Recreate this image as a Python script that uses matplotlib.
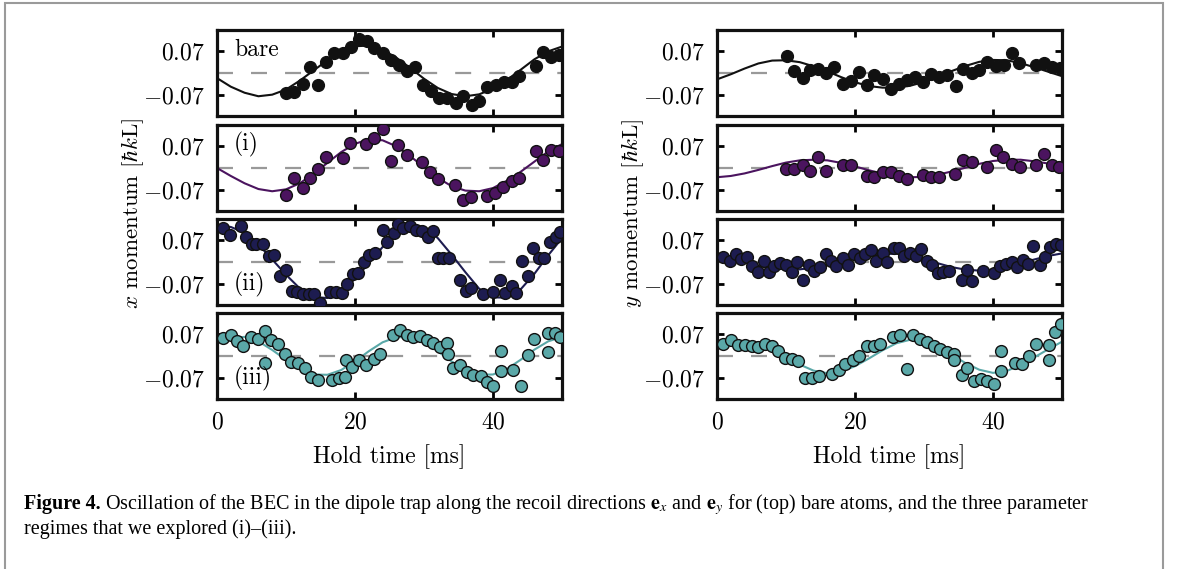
import matplotlib
matplotlib.use("Agg")
import matplotlib.pyplot as plt
from matplotlib.patches import Rectangle

# fit curves are sampled every 2 ms
fit_t = [0, 2, 4, 6, 8, 10, 12, 14, 16, 18, 20, 22, 24, 26, 28, 30, 32, 34,
         36, 38, 40, 42, 44, 46, 48, 50]

# ---- x direction ----
bare_x_t = [10.0, 11.2, 12.4, 13.5, 14.6, 15.8, 17.0, 18.2, 19.4, 20.6, 21.7,
            22.8, 24.0, 25.2, 26.4, 27.5, 28.7, 29.8, 31.0, 32.2, 33.4, 34.6,
            35.7, 36.9, 38.0, 39.2, 40.4, 41.6, 42.7, 43.8, 46.2, 47.3, 48.4,
            49.6]
bare_x_v = [-0.062, -0.059, -0.036, 0.019, -0.039, 0.034, 0.062, 0.062, 0.083,
            0.107, 0.099, 0.078, 0.062, 0.041, 0.026, 0.005, 0.018, -0.039,
            -0.057, -0.078, -0.080, -0.095, -0.071, -0.099, -0.088, -0.045,
            -0.038, -0.028, -0.028, -0.010, 0.023, 0.067, 0.050, 0.057]
bare_x_fit = [-0.016, -0.043, -0.062, -0.073, -0.068, -0.052, -0.024, 0.008,
              0.040, 0.067, 0.084, 0.086, 0.073, 0.048, 0.016, -0.018, -0.047,
              -0.066, -0.073, -0.067, -0.049, -0.022, 0.010, 0.043, 0.068,
              0.083]

i_x_t = [10.0, 11.2, 12.4, 13.5, 14.6, 15.8, 18.2, 19.3, 21.6, 22.8, 24.0,
         25.2, 26.3, 27.5, 29.7, 30.9, 32.1, 34.5, 35.7, 36.8, 39.1, 40.3,
         41.5, 42.7, 43.8, 46.2, 47.3, 48.4, 49.6]
i_x_v = [-0.086, -0.031, -0.062, -0.031, -0.002, 0.035, 0.031, 0.080, 0.075,
         0.093, 0.121, 0.023, 0.071, 0.041, 0.018, -0.013, -0.036, -0.052,
         -0.102, -0.090, -0.088, -0.078, -0.060, -0.041, -0.031, 0.054, 0.026,
         0.055, 0.052]
i_x_fit = [0.000, -0.025, -0.048, -0.066, -0.073, -0.067, -0.048, -0.018,
           0.016, 0.050, 0.076, 0.090, 0.087, 0.068, 0.037, 0.003, -0.031,
           -0.057, -0.071, -0.073, -0.063, -0.040, -0.012, 0.020, 0.052, 0.075]

ii_x_t = [0.8, 1.9, 3.5, 4.2, 5.0, 5.7, 6.6, 7.6, 8.3, 9.1, 10.0, 10.8, 11.6,
          12.5, 13.4, 14.1, 14.9, 16.4, 17.2, 18.1, 18.8, 19.7, 20.5, 21.3,
          22.1, 22.9, 24.0, 24.7, 25.6, 26.3, 27.0, 28.0, 28.8, 29.7, 30.6,
          31.3, 32.0, 32.8, 33.6, 35.2, 36.1, 36.8, 38.5, 40.0, 41.0, 41.7,
          42.7, 43.4, 44.2, 45.1, 45.8, 46.7, 47.4, 48.3, 49.1, 49.7]
ii_x_v = [0.108, 0.085, 0.114, 0.080, 0.056, 0.056, 0.057, 0.018, 0.021,
          -0.045, -0.024, -0.091, -0.094, -0.099, -0.102, -0.102, -0.128,
          -0.094, -0.094, -0.096, -0.068, -0.039, -0.034, 0.000, 0.023, 0.028,
          0.101, 0.064, 0.090, 0.118, 0.106, 0.114, 0.101, 0.097, 0.080, 0.097,
          0.012, 0.012, 0.012, -0.055, -0.091, -0.081, -0.100, -0.093, -0.055,
          -0.096, -0.076, -0.096, 0.002, -0.043, 0.044, 0.012, 0.012, 0.062,
          0.080, 0.095]
ii_x_fit = [0.113, 0.110, 0.092, 0.055, 0.008, -0.040, -0.083, -0.110, -0.113,
            -0.093, -0.053, -0.004, 0.047, 0.092, 0.115, 0.110, 0.075, 0.023,
            -0.032, -0.084, -0.111, -0.112, -0.086, -0.037, 0.021, 0.075]

iii_x_t = [0.8, 2.0, 2.9, 3.8, 4.9, 6.0, 7.0, 7.0, 7.8, 8.9, 9.9, 10.7, 11.8,
           12.8, 13.6, 14.7, 16.6, 17.7, 18.5, 18.7, 19.6, 20.6, 21.6, 22.7,
           23.6, 25.5, 26.5, 27.5, 28.4, 29.4, 30.4, 31.3, 32.3, 33.3, 33.5,
           34.2, 35.2, 36.2, 37.1, 38.2, 39.1, 40.0, 41.2, 41.2, 42.9, 44.1,
           45.1, 45.9, 48.0, 48.0, 49.0, 49.7]
iii_x_v = [0.056, 0.067, 0.046, 0.032, 0.059, 0.054, 0.080, -0.021, 0.050,
           0.037, 0.007, -0.018, -0.021, -0.037, -0.067, -0.075, -0.075,
           -0.070, -0.067, -0.011, -0.034, -0.014, -0.027, -0.009, 0.007,
           0.067, 0.082, 0.067, 0.059, 0.062, 0.050, 0.040, 0.027, 0.040,
           0.005, -0.037, -0.027, -0.051, -0.059, -0.064, -0.082, -0.093,
           0.016, -0.048, -0.044, -0.094, 0.003, 0.054, 0.011, 0.072, 0.072,
           0.059]
iii_x_fit = [0.039, 0.057, 0.060, 0.046, 0.019, -0.012, -0.041, -0.058, -0.059,
             -0.044, -0.017, 0.015, 0.043, 0.059, 0.059, 0.043, 0.015, -0.017,
             -0.044, -0.059, -0.058, -0.041, -0.012, 0.020, 0.046, 0.060]

# ---- y direction ----
bare_y_t = [10.1, 11.2, 12.4, 13.5, 14.6, 15.8, 17.0, 18.2, 19.4, 20.6, 21.7,
            22.8, 24.0, 25.2, 26.4, 27.5, 28.7, 29.9, 31.0, 32.2, 33.4, 34.6,
            35.7, 36.9, 38.0, 39.2, 40.4, 41.6, 42.7, 43.8, 46.2, 47.4, 48.6,
            49.7]
bare_y_v = [0.052, 0.007, -0.016, 0.010, 0.012, 0.000, 0.020, -0.034, -0.026,
            0.003, -0.038, -0.007, -0.018, -0.049, -0.036, -0.023, -0.013,
            -0.029, -0.003, -0.013, -0.007, -0.041, 0.013, 0.000, 0.010, 0.036,
            0.021, 0.026, 0.064, 0.031, 0.026, 0.031, 0.018, 0.016]
bare_y_fit = [-0.020, -0.004, 0.014, 0.030, 0.039, 0.040, 0.034, 0.021, 0.005,
              -0.013, -0.029, -0.041, -0.046, -0.046, -0.040, -0.028, -0.012,
              0.006, 0.022, 0.035, 0.041, 0.040, 0.031, 0.018, 0.004, -0.010]

i_y_t = [10.0, 11.2, 12.4, 13.5, 14.7, 15.8, 18.2, 19.4, 21.7, 22.8, 24.0,
         25.2, 26.4, 27.5, 29.9, 31.0, 32.2, 34.5, 35.7, 36.9, 39.2, 40.4,
         41.5, 42.7, 43.9, 46.2, 47.4, 48.5, 49.6]
i_y_v = [-0.002, -0.002, 0.010, -0.010, 0.033, -0.010, 0.010, 0.010, -0.024,
         -0.029, -0.012, -0.013, -0.026, -0.036, -0.023, -0.029, -0.029,
         -0.018, 0.026, 0.019, 0.003, 0.057, 0.033, 0.013, 0.003, 0.010, 0.044,
         0.008, 0.003]
i_y_fit = [-0.029, -0.025, -0.017, -0.006, 0.006, 0.017, 0.024, 0.026, 0.024,
           0.016, 0.005, -0.007, -0.018, -0.026, -0.029, -0.028, -0.021,
           -0.011, 0.001, 0.013, 0.022, 0.026, 0.026, 0.021, 0.014, 0.009]

ii_y_t = [0.9, 1.9, 2.7, 3.5, 4.3, 5.1, 6.0, 6.8, 7.5, 8.3, 9.1, 10.0, 10.8,
          11.6, 12.5, 13.3, 14.1, 14.9, 15.8, 16.5, 17.3, 18.2, 19.0, 19.9,
          20.7, 21.4, 22.3, 23.0, 24.0, 24.7, 25.6, 26.4, 27.1, 28.0, 28.8,
          29.6, 30.4, 31.2, 32.0, 32.8, 33.6, 35.5, 36.2, 37.0, 38.6, 40.2,
          41.0, 41.9, 42.7, 43.5, 44.3, 45.1, 45.8, 46.8, 47.6, 48.3, 49.1,
          49.8]
ii_y_v = [0.016, 0.002, 0.025, 0.009, 0.016, -0.013, -0.031, 0.002, -0.031,
          -0.013, -0.003, -0.010, -0.032, 0.000, -0.058, -0.008, -0.029,
          -0.017, 0.025, 0.002, -0.013, 0.012, -0.008, 0.025, 0.012, 0.025,
          0.038, 0.002, 0.028, 0.000, 0.044, 0.044, 0.020, 0.028, 0.020, 0.041,
          0.002, -0.010, -0.034, -0.031, -0.027, -0.055, -0.024, -0.060,
          -0.027, -0.034, -0.013, -0.006, 0.000, -0.017, 0.007, -0.006, 0.049,
          -0.008, 0.015, 0.046, 0.056, 0.054]
ii_y_fit = [0.015, 0.008, -0.002, -0.012, -0.019, -0.023, -0.023, -0.018,
            -0.010, 0.000, 0.010, 0.019, 0.025, 0.026, 0.021, 0.010, -0.004,
            -0.016, -0.024, -0.027, -0.024, -0.016, -0.004, 0.008, 0.019, 0.027]

iii_y_t = [0.9, 2.0, 3.0, 4.0, 5.0, 6.0, 7.0, 7.9, 8.9, 9.9, 10.8, 11.8, 12.8,
           13.8, 14.8, 16.7, 17.7, 18.6, 19.7, 20.6, 21.7, 22.7, 23.6, 25.5,
           26.5, 27.5, 28.4, 29.4, 30.5, 31.4, 32.3, 33.4, 34.4, 34.4, 35.5,
           36.3, 37.3, 38.3, 39.2, 40.1, 41.2, 41.2, 43.2, 44.2, 45.2, 46.2,
           48.1, 48.1, 49.0, 49.8]
iii_y_v = [0.037, 0.050, 0.034, 0.034, 0.032, 0.027, 0.037, 0.030, 0.016,
           -0.005, -0.009, -0.016, -0.070, -0.070, -0.064, -0.057, -0.043,
           -0.025, -0.011, 0.000, 0.032, 0.032, 0.037, 0.061, 0.067, -0.040,
           0.067, 0.054, 0.045, 0.032, 0.021, 0.011, 0.005, -0.014, -0.061,
           -0.037, -0.080, -0.072, -0.080, -0.088, 0.016, -0.046, -0.021,
           -0.025, 0.000, 0.037, -0.014, 0.034, 0.075, 0.100]
iii_y_fit = [0.044, 0.048, 0.046, 0.036, 0.018, -0.004, -0.027, -0.046, -0.054,
             -0.049, -0.032, -0.008, 0.018, 0.040, 0.051, 0.046, 0.028, 0.004,
             -0.022, -0.043, -0.053, -0.047, -0.028, -0.004, 0.021, 0.045]

panel_labels = ["bare", "(i)", "(ii)", "(iii)"]
colors = ["#111111", "#4b145f", "#1d1c50", "#5aa8a8"]
x_ticks = [0, 20, 40]
x_ticklabels = ["$0$", "$20$", "$40$"]
y_ticks = [-0.07, 0.07]
y_ticklabels = ["$-0.07$", "$0.07$"]

columns = [
    [(bare_x_t, bare_x_v, bare_x_fit), (i_x_t, i_x_v, i_x_fit),
     (ii_x_t, ii_x_v, ii_x_fit), (iii_x_t, iii_x_v, iii_x_fit)],
    [(bare_y_t, bare_y_v, bare_y_fit), (i_y_t, i_y_v, i_y_fit),
     (ii_y_t, ii_y_v, ii_y_fit), (iii_y_t, iii_y_v, iii_y_fit)],
]

plt.rcParams['font.family'] = 'serif'
plt.rcParams['font.serif'] = ['cmr10']
plt.rcParams['mathtext.fontset'] = 'cm'
plt.rcParams['axes.formatter.use_mathtext'] = True
plt.rcParams['lines.scale_dashes'] = False

W, H = 1179, 569
fig = plt.figure(figsize=(W / 100, H / 100), dpi=100)

# panel geometry in pixels
col_left = [217, 717]
col_width = 345
row_top = [30, 125, 219, 313]
row_height = 86

for c, col in enumerate(columns):
    for r, (t, v, fit) in enumerate(col):
        ax = fig.add_axes([col_left[c] / W, 1 - (row_top[r] + row_height) / H,
                           col_width / W, row_height / H])
        ax.axhline(0, color="#999999", lw=1.6, dashes=(11.5, 13), zorder=1)
        ax.plot(fit_t, fit, color=colors[r], lw=1.5, zorder=2)
        ax.plot(t, v, "o", ms=8.5, mfc=colors[r], mec="#111111", mew=1.0,
                zorder=3)
        ax.set_xlim(0, 50)
        ax.set_ylim(-0.135, 0.135)
        ax.set_xticks(x_ticks)
        ax.set_yticks(y_ticks)
        ax.set_yticklabels(y_ticklabels)
        ax.tick_params(direction="in", top=True, right=True, length=5,
                       width=2, labelsize=17, pad=9)
        for sp in ax.spines.values():
            sp.set_linewidth(2.3)
            sp.set_color("#111111")
        if r < 3:
            ax.tick_params(labelbottom=False)
        else:
            ax.set_xticklabels(x_ticklabels)

        # panel labels only on the left column
        if c == 0:
            ypos = 0.77 if r < 2 else 0.24
            ax.text(0.05, ypos, panel_labels[r], transform=ax.transAxes,
                    fontsize=17, ha="left", va="center")

# axis labels, set just left of the tick labels
for c, name in enumerate(["x", "y"]):
    fig.text((col_left[c] - 84) / W, 1 - 213 / H,
             r"$%s$ momentum [$\hbar k$L]" % name,
             rotation=90, ha="center", va="center", fontsize=16.5)
    fig.text((col_left[c] + col_width / 2) / W, 1 - 457 / H,
             "Hold time [ms]", ha="center", va="center", fontsize=17)

# caption
cap_font = "Liberation Serif"
cap_size = 14.5
t1 = fig.text(24 / W, 1 - 509 / H, "Figure 4.", family=cap_font,
              weight="bold", fontsize=cap_size, va="baseline")
fig.canvas.draw()
bb = t1.get_window_extent()
fig.text((bb.x1 + 4) / W, 1 - 509 / H,
         r"Oscillation of the BEC in the dipole trap along the recoil "
         r"directions $\mathbf{e}_x$ and $\mathbf{e}_y$ for (top) bare atoms, "
         r"and the three parameter",
         family=cap_font, fontsize=cap_size, va="baseline",
         math_fontfamily="stix")
fig.text(24 / W, 1 - 534 / H, "regimes that we explored (i)\u2013(iii).",
         family=cap_font, fontsize=cap_size, va="baseline")

# grey frame round the whole figure
frame = Rectangle((5 / W, -0.05), (1163 - 5) / W, 1 - 3 / H + 0.05,
                  transform=fig.transFigure, fill=False, ec="#9a9a9a",
                  lw=1.5, clip_on=False)
fig.add_artist(frame)

fig.savefig("out.png", dpi=100)
